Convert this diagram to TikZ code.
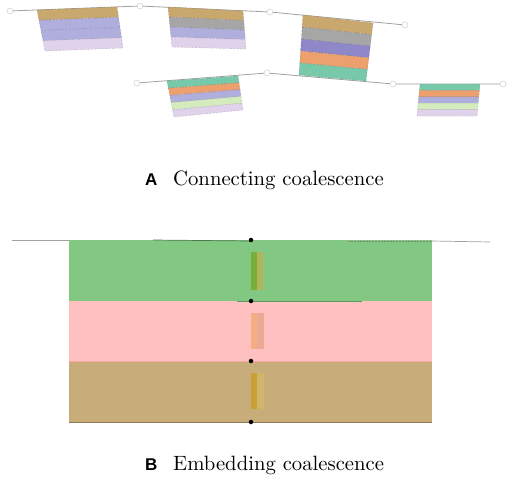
\documentclass[tikz,border=0pt]{standalone}
\usepackage{fontspec}
\newfontfamily\labfont{Liberation Sans}
\newfontfamily\capfont{lmroman10-regular.otf}
\usetikzlibrary{calc}
\definecolor{ftan}{HTML}{C9A86E}
\definecolor{fgray}{HTML}{A6A6A6}
\definecolor{fpurA}{HTML}{AFAEDC}
\definecolor{fpurB}{HTML}{8F88C8}
\definecolor{flav}{HTML}{E0D2EA}
\definecolor{forange}{HTML}{EBA06E}
\definecolor{fteal}{HTML}{78C8AA}
\definecolor{flgreen}{HTML}{D4EBBE}
\definecolor{bgreen}{HTML}{82C882}
\definecolor{bpink}{HTML}{FFC0C0}
\definecolor{btan}{HTML}{C8AD7B}
\definecolor{linegray}{HTML}{A0A0A0}
\definecolor{gpieceA}{HTML}{7AAE3A}
\definecolor{gpieceB}{HTML}{B4B45C}
\definecolor{ppieceA}{HTML}{F3AE86}
\definecolor{ppieceB}{HTML}{EBA892}
\definecolor{tpieceA}{HTML}{C9A036}
\definecolor{tpieceB}{HTML}{D2B46A}
\newcommand\drawflag[6]{% TL TR BR BL n colours
  \foreach \c [count=\i] in {#6} {
    \pgfmathsetmacro\fa{(\i-1)/#5}
    \pgfmathsetmacro\fb{\i/#5}
    \fill[\c] ($(#1)!\fa!(#4)$) -- ($(#2)!\fa!(#3)$) -- ($(#2)!\fb!(#3)$) -- ($(#1)!\fb!(#4)$) -- cycle;
    \draw[\c!70!black, dashed, line width=0.4pt, dash pattern=on 2pt off 1.5pt, opacity=0.6] ($(#1)!\fa!(#4)$) -- ($(#2)!\fa!(#3)$) -- ($(#2)!\fb!(#3)$) -- ($(#1)!\fb!(#4)$) -- cycle;
  }
}
\tikzset{
  rope/.style={draw=linegray, line width=0.8pt},
  ring/.style={circle, draw=linegray!60, fill=white, line width=0.4pt, inner sep=0pt, minimum size=6pt},
  pin/.style={circle, fill=black, inner sep=0pt, minimum size=4.5pt},
  captext/.style={font=\capfont\fontsize{20.7}{24}\selectfont, inner sep=0pt, anchor=base west},
  letter/.style={font=\labfont\bfseries\fontsize{17}{20}\selectfont, inner sep=0pt, anchor=base west}
}
\begin{document}
\begin{tikzpicture}[x=1pt,y=-1pt]
\useasboundingbox (0,0) rectangle (510,479);
% ---------- Panel A ----------
\node[ring] (r1) at (10,11) {};
\node[ring] (r2) at (140,6) {};
\node[ring] (r3) at (270,12) {};
\node[ring] (r4) at (405,25) {};
\node[ring] (s1) at (137,83) {};
\node[ring] (s2) at (267,73) {};
\node[ring] (s3) at (393,84) {};
\node[ring] (s4) at (503,84) {};
\draw[rope] (r1) -- (r2) -- (r3) -- (r4);
\draw[rope] (s1) -- (s2) -- (s3) -- (s4);
% flag 1
\drawflag{37,10}{117,7}{123,48}{45,51}{4}{ftan,fpurA,fpurA,flav}
% flag 2
\drawflag{168,7}{243,11}{246,49}{172,47}{4}{ftan,fgray,fpurA,flav}
% flag 3
\drawflag{303,15}{373,23}{366,81}{299,75}{5}{ftan,fgray,fpurB,forange,fteal}
% flag 4
\drawflag{167,81}{238,76}{243,110}{174,117}{5}{fteal,forange,fpurA,flgreen,flav}
% flag 5
\drawflag{420,84}{480,84}{477,116}{417,116}{5}{fteal,forange,fpurA,flgreen,flav}
\node[letter] (la) at (145,185) {A};
\node[captext] (ca) at (173,185) {Connecting coalescence};
% ---------- Panel B ----------
\fill[btan] (69,361) rectangle (432,422);
\fill[bpink] (69,301) rectangle (432,361);
\fill[bgreen] (69,240) rectangle (432,301);
\draw[btan!70!black, line width=0.6pt] (69,422) -- (432,422);
\draw[bpink!85!red, line width=0.4pt] (69,361) -- (432,361);
\draw[bgreen!75!black, line width=0.5pt] (237,301) -- (362,301);
\draw[rope, line width=0.7pt] (12,240) -- (69,240);
\draw[bgreen!60!black, line width=0.7pt] (153,240) -- (251,241);
\draw[gray, dashed, dash pattern=on 2pt off 1pt, line width=0.6pt] (348,241) -- (432,241);
\draw[rope, line width=0.7pt] (432,241) -- (490,242);
% inner pieces
\fill[gpieceA] (251,252) rectangle (257,290);
\fill[gpieceB] (257,252) rectangle (263,290);
\fill[ppieceA] (251,313) rectangle (257,349);
\fill[ppieceB] (257,313) rectangle (264,349);
\fill[tpieceA] (251,373) rectangle (257,409);
\fill[tpieceB] (257,373) rectangle (264,409);
\node[pin] (p1) at (251,240) {};
\node[pin] (p2) at (251,301) {};
\node[pin] (p3) at (251,361) {};
\node[pin] (p4) at (251,422) {};
\node[letter] (lb) at (145,470) {B};
\node[captext] (cb) at (173,470) {Embedding coalescence};
\end{tikzpicture}
\end{document}
